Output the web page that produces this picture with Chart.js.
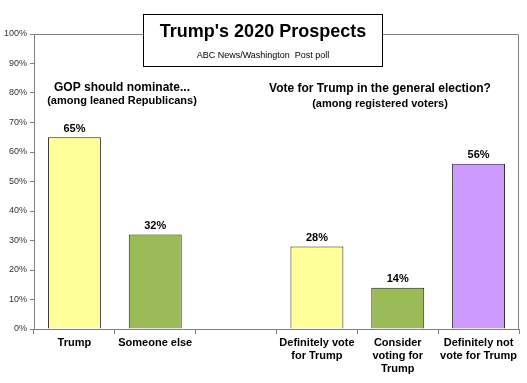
<!DOCTYPE html>
<html><head><meta charset="utf-8">
<script src="https://cdn.jsdelivr.net/npm/chart.js@4.4.1/dist/chart.umd.min.js"></script>
<style>html,body{margin:0;padding:0;background:#fff}canvas{display:block}</style>
</head><body>
<canvas id="c" width="527" height="383"></canvas>
<script>
const categories = [["Trump"], ["Someone else"], [""], ["Definitely vote", "for Trump"], ["Consider", "voting for", "Trump"], ["Definitely not", "vote for Trump"]];
const values = [65, 32, null, 28, 14, 56];
const barColors = ["#FFFF99", "#9BBB59", "#FFFFFF", "#FFFF99", "#9BBB59", "#CC99FF"];
const yTicks = [0, 10, 20, 30, 40, 50, 60, 70, 80, 90, 100];
const titleText = "Trump's 2020 Prospects";
const subtitleText = "ABC News/Washington  Post poll";
const leftHeading = ["GOP should nominate...", "(among leaned Republicans)"];
const rightHeading = ["Vote for Trump in the general election?", "(among registered voters)"];
const FONT = "'Liberation Sans', Arial, sans-serif";

const overlay = {
  id: 'overlay',
  afterDraw(chart) {
    const ctx = chart.ctx, a = chart.chartArea;
    ctx.save();
    // frame top and right
    ctx.strokeStyle = '#808080'; ctx.lineWidth = 1;
    ctx.beginPath();
    ctx.moveTo(Math.round(a.left) + 0.5, Math.round(a.top) + 0.5);
    ctx.lineTo(Math.round(a.right) - 0.5, Math.round(a.top) + 0.5);
    ctx.lineTo(Math.round(a.right) - 0.5, Math.round(a.bottom) + 0.5);
    ctx.stroke();
    // data labels
    ctx.fillStyle = '#000';
    ctx.font = 'bold 11px ' + FONT;
    ctx.textAlign = 'center'; ctx.textBaseline = 'bottom';
    const meta = chart.getDatasetMeta(0);
    values.forEach((v, i) => {
      if (v == null) return;
      const el = meta.data[i];
      ctx.fillText(v + '%', el.x, el.y - 3);
    });
    // headings
    const lx = 122, rx = 380;
    ctx.font = 'bold 12px ' + FONT;
    ctx.textBaseline = 'middle';
    ctx.fillText(leftHeading[0], lx, 88);
    ctx.fillText(rightHeading[0], rx, 89);
    ctx.font = 'bold 11px ' + FONT;
    ctx.fillText(leftHeading[1], lx, 101);
    ctx.fillText(rightHeading[1], rx, 104);
    // title box
    ctx.fillStyle = '#fff';
    ctx.fillRect(143, 14, 239, 52);
    ctx.strokeStyle = '#000';
    ctx.strokeRect(143.5, 14.5, 239, 52);
    ctx.fillStyle = '#000';
    ctx.font = 'bold 18px ' + FONT;
    ctx.fillText(titleText, 263, 32);
    ctx.font = '9px ' + FONT;
    ctx.fillText(subtitleText, 263, 56);
    ctx.restore();
  }
};

new Chart(document.getElementById('c'), {
  type: 'bar',
  data: {
    labels: categories,
    datasets: [{
      data: values,
      backgroundColor: barColors,
      borderColor: '#222',
      borderWidth: 1,
      categoryPercentage: 1,
      barPercentage: 0.655
    }]
  },
  options: {
    responsive: false,
    animation: false,
    events: [],
    layout: { padding: { top: 34, right: 8, left: 0, bottom: 0 } },
    plugins: { legend: { display: false }, tooltip: { enabled: false }, title: { display: false } },
    scales: {
      x: {
        offset: true,
        grid: { offset: true, drawOnChartArea: false, drawTicks: true, tickLength: 5, color: '#808080' },
        border: { display: true, color: '#808080' },
        ticks: { color: '#000', font: { family: FONT, size: 11, weight: 'bold' }, maxRotation: 0, autoSkip: false, padding: 2 },
        afterFit(s) { s.height = 54; }
      },
      y: {
        min: 0, max: 100,
        afterBuildTicks(s) { s.ticks = yTicks.map(v => ({ value: v })); },
        grid: { drawOnChartArea: false, drawTicks: true, tickLength: 4, color: '#808080' },
        border: { display: true, color: '#808080' },
        ticks: { color: '#333', font: { family: FONT, size: 9 }, padding: 3, callback: v => v + '%' },
        afterFit(s) { s.width = 34; }
      }
    }
  },
  plugins: [overlay]
});
</script>
</body></html>
